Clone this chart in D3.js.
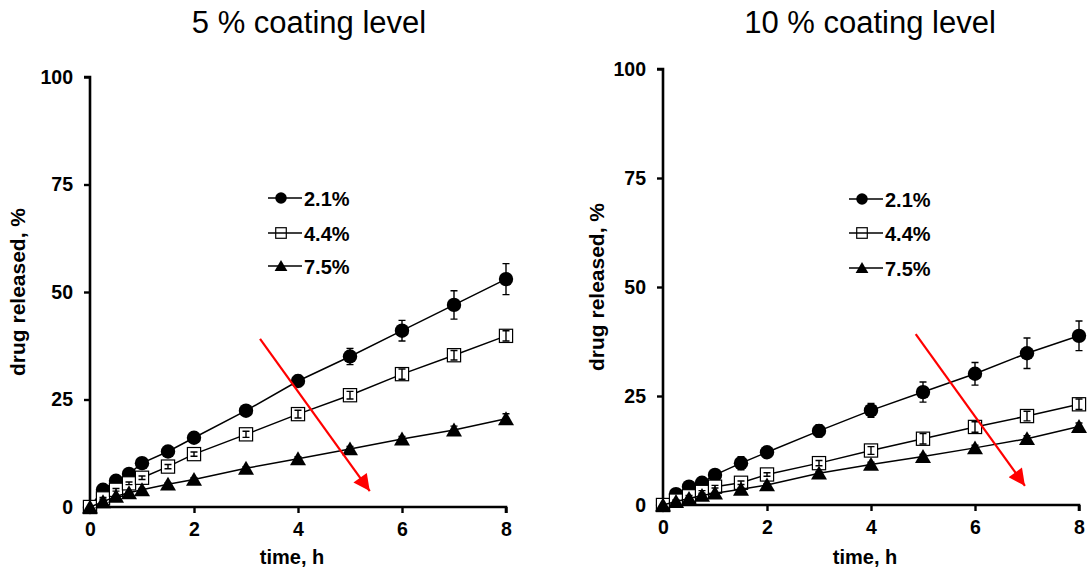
<!DOCTYPE html>
<html><head><meta charset="utf-8">
<script src="https://cdn.jsdelivr.net/npm/d3@7"></script>
<style>
body{margin:0;background:#fff;}
svg{display:block;font-family:"Liberation Sans",Arial,sans-serif;}
</style></head>
<body><svg id="chart" width="1089" height="574"></svg>
<script>
// ---- data ----
const times = [0, 0.25, 0.5, 0.75, 1, 1.5, 2, 3, 4, 5, 6, 7, 8];
const seriesNames = ["2.1%", "4.4%", "7.5%"];
const panelTitles = ["5 % coating level", "10 % coating level"];
const xTicks = [0, 2, 4, 6, 8];
const yTicks = [0, 25, 50, 75, 100];

// 5 % coating level
const c5_s1 = [0, 4.0, 6.1, 7.7, 10.2, 12.9, 16.1, 22.4, 29.3, 35.0, 41.0, 47.0, 53.0];
const c5_s1_err = [0, 0.3, 0.4, 0.5, 0.5, 0.6, 0.7, 0.9, 1.3, 1.9, 2.4, 3.3, 3.6];
const c5_s2 = [0, 2.0, 4.0, 5.5, 6.8, 9.4, 12.3, 16.9, 21.6, 26.0, 30.9, 35.3, 39.8];
const c5_s2_err = [0, 0.2, 0.3, 0.3, 0.4, 0.5, 0.5, 0.7, 0.9, 0.9, 1.2, 1.1, 1.2];
const c5_s3 = [0, 1.2, 2.5, 3.3, 4.0, 5.3, 6.4, 9.0, 11.2, 13.5, 15.8, 17.9, 20.5];
const c5_s3_err = [0, 0.1, 0.2, 0.2, 0.3, 0.3, 0.4, 0.4, 0.5, 0.6, 0.6, 0.9, 1.2];

// 10 % coating level
const c10_s1 = [0, 2.5, 4.2, 5.1, 6.9, 9.6, 12.1, 17.0, 21.7, 25.9, 30.1, 34.8, 38.8];
const c10_s1_err = [0, 0.3, 0.3, 0.4, 0.5, 1.5, 0.8, 1.4, 1.6, 2.3, 2.6, 3.5, 3.4];
const c10_s2 = [0, 1.0, 2.0, 3.0, 4.2, 5.1, 7.0, 9.6, 12.5, 15.2, 17.9, 20.4, 23.1];
const c10_s2_err = [0, 0.2, 0.2, 0.3, 0.3, 0.4, 0.4, 0.6, 0.9, 1.2, 1.2, 1.1, 1.2];
const c10_s3 = [0, 0.8, 1.5, 2.2, 2.7, 3.6, 4.6, 7.3, 9.3, 11.1, 13.1, 15.2, 18.0];
const c10_s3_err = [0, 0.1, 0.2, 0.2, 0.2, 0.3, 0.3, 0.4, 0.5, 0.5, 0.6, 0.7, 0.8];

// red trend arrows (data coords: [x0, y0, x1, y1])
const arrow5 = [3.27, 39.1, 5.38, 3.7];
const arrow10 = [4.86, 39.2, 6.96, 4.4];

// ---- layout ----
const panels = [
  {title: panelTitles[0], x0: 90, x1: 506, yTop: 77, yBot: 507, titleX: 309,
   series: [[c5_s1, c5_s1_err], [c5_s2, c5_s2_err], [c5_s3, c5_s3_err]],
   arrow: arrow5, legX: 268, legY: [198, 233, 266], ylabX: 18},
  {title: panelTitles[1], x0: 663, x1: 1079, yTop: 69, yBot: 505, titleX: 870,
   series: [[c10_s1, c10_s1_err], [c10_s2, c10_s2_err], [c10_s3, c10_s3_err]],
   arrow: arrow10, legX: 849, legY: [199, 233, 268], ylabX: 597}
];

const svg = d3.select("#chart");
const defs = svg.append("defs");
defs.append("marker").attr("id", "redhead")
  .attr("viewBox", "0 0 10 10").attr("refX", 10).attr("refY", 5)
  .attr("markerWidth", 8.5).attr("markerHeight", 7.5).attr("markerUnits", "strokeWidth")
  .attr("orient", "auto")
  .append("path").attr("d", "M0,0 L10,5 L0,10 Z").attr("fill", "#ff0000");

function drawMarker(g, type, x, y, scale) {
  const s = scale || 1;
  if (type === 0) {
    g.append("circle").attr("cx", x).attr("cy", y).attr("r", 7.2 * s).attr("fill", "#000");
  } else if (type === 1) {
    const h = 6.6 * s;
    g.append("rect").attr("x", x - h).attr("y", y - h).attr("width", 2 * h).attr("height", 2 * h)
      .attr("fill", "#fff").attr("stroke", "#000").attr("stroke-width", 1.2);
  } else {
    const w = 8 * s, hh = 7.5 * s;
    g.append("path").attr("d", `M${x},${y - hh} L${x + w},${y + hh * 0.85} L${x - w},${y + hh * 0.85} Z`)
      .attr("fill", "#000");
  }
}

panels.forEach(p => {
  const x = d3.scaleLinear().domain([0, 8]).range([p.x0, p.x1]);
  const y = d3.scaleLinear().domain([0, 100]).range([p.yBot, p.yTop]);
  const g = svg.append("g");

  // title
  g.append("text").attr("x", p.titleX).attr("y", 33).attr("text-anchor", "middle")
    .attr("font-size", 31).attr("fill", "#000").text(p.title);

  // axes
  const xAxis = g.append("g").attr("transform", `translate(0,${p.yBot})`)
    .call(d3.axisBottom(x).tickValues(xTicks).tickSize(6).tickPadding(9).tickFormat(d3.format("d")));
  const yAxis = g.append("g").attr("transform", `translate(${p.x0},0)`)
    .call(d3.axisLeft(y).tickValues(yTicks).tickSize(6).tickPadding(11).tickFormat(d3.format("d")));
  [xAxis, yAxis].forEach(a => {
    a.select(".domain").attr("stroke", "#000").attr("stroke-width", 2.6);
    a.selectAll(".tick line").attr("stroke", "#000").attr("stroke-width", 2.4);
    a.selectAll(".tick text").attr("font-size", 19.5).attr("font-weight", "bold")
      .attr("fill", "#000").attr("font-family", '"Liberation Sans",Arial,sans-serif');
  });
  xAxis.select(".domain").attr("d", `M${p.x0},6V0H${p.x1}V6`);
  yAxis.select(".domain").attr("d", `M-6,${p.yTop}H0V${p.yBot}H-6`);

  // axis labels
  g.append("text").attr("x", (p.x0 + p.x1) / 2 - 6).attr("y", 564).attr("text-anchor", "middle")
    .attr("font-size", 20).attr("font-weight", "bold").text("time, h");
  const ycen = (p.yTop + p.yBot) / 2;
  g.append("text").attr("transform", `translate(${p.ylabX + 7},${ycen}) rotate(-90)`)
    .attr("text-anchor", "middle").attr("font-size", 21).attr("font-weight", "bold")
    .text("drug released, %");

  // series
  const line = d3.line().x((d, i) => x(times[i])).y(d => y(d));
  p.series.forEach(([vals, errs], si) => {
    const sg = g.append("g");
    sg.append("path").attr("d", line(vals)).attr("fill", "none")
      .attr("stroke", "#000").attr("stroke-width", 1.5);
    vals.forEach((v, i) => drawMarker(sg, si, x(times[i]), y(v)));
    vals.forEach((v, i) => {
      const e = errs[i];
      if (e <= 0) return;
      const cx = x(times[i]);
      sg.append("path")
        .attr("d", `M${cx},${y(v - e)}V${y(v + e)}M${cx - 3.5},${y(v + e)}H${cx + 3.5}M${cx - 3.5},${y(v - e)}H${cx + 3.5}`)
        .attr("stroke", "#000").attr("stroke-width", 1.4).attr("fill", "none");
    });
  });

  // legend
  seriesNames.forEach((name, si) => {
    const ly = p.legY[si];
    const lg = g.append("g");
    drawMarker(lg, si, p.legX + 13, ly, 0.8);
    lg.append("line").attr("x1", p.legX).attr("x2", p.legX + 34).attr("y1", ly).attr("y2", ly)
      .attr("stroke", "#000").attr("stroke-width", 1.5);
    lg.append("text").attr("x", p.legX + 36).attr("y", ly + 7.5)
      .attr("font-size", 20).attr("font-weight", "bold").text(name);
  });

  // red arrow
  const a = p.arrow;
  g.append("line").attr("x1", x(a[0])).attr("y1", y(a[1])).attr("x2", x(a[2])).attr("y2", y(a[3]))
    .attr("stroke", "#ff0000").attr("stroke-width", 2.2).attr("marker-end", "url(#redhead)");
});
</script></body></html>
